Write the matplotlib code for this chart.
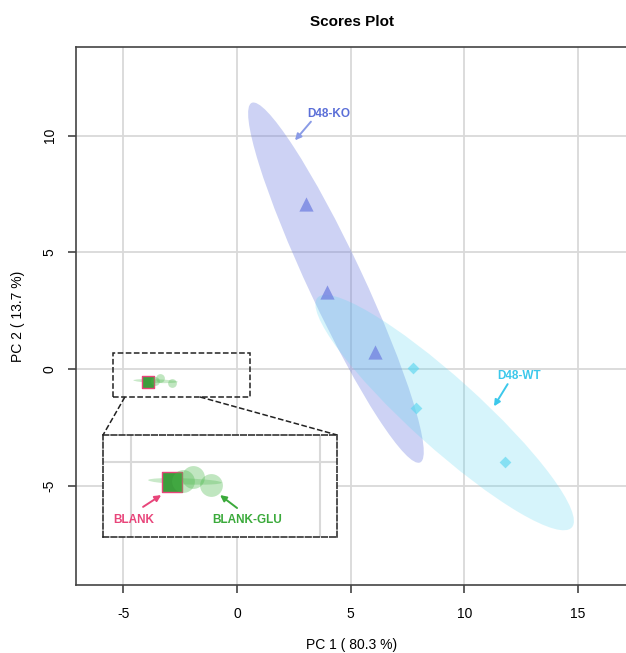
import matplotlib
matplotlib.use("Agg")
import matplotlib.pyplot as plt
from matplotlib.patches import Ellipse, Rectangle

plt.rcParams['font.family'] = ['Liberation Sans', 'DejaVu Sans']
plt.rcParams['axes.unicode_minus'] = False

# scores
ko_x = [3.03, 3.96, 6.07]
ko_y = [7.07, 3.30, 0.73]
wt_x = [7.74, 7.87, 11.79]
wt_y = [0.04, -1.67, -3.99]
blank_x = [-3.92]
blank_y = [-0.54]
glu_x = [-3.62, -3.38, -2.88]
glu_y = [-0.50, -0.40, -0.61]

# ellipses: center x, center y, width, height, angle
ko_ell = (4.35, 3.70, 17.1, 2.4, -64.3)
wt_ell = (9.13, -1.87, 14.9, 3.0, -41.3)
glu_ell = (-3.58, -0.52, 1.95, 0.16, -2.0)

xticks = [-5, 0, 5, 10, 15]
yticks = [-5, 0, 5, 10]

c_ko, c_wt = '#7080E0', '#5CD6F0'
c_blank, c_glu = '#E8457A', '#4CB84C'
grid_c = '#D9D9D9'

fig = plt.figure(figsize=(6.26, 6.53), dpi=100)
W, H = 626, 653
ax = fig.add_axes([76 / W, (H - 585) / H, (640 - 76) / W, (585 - 47) / H])
ax.set_xlim(-7.08, 17.72)
ax.set_ylim(-9.26, 13.8)
ax.set_xticks(xticks)
ax.set_yticks(yticks)
ax.grid(True, color=grid_c, lw=1.3)
ax.set_axisbelow(True)
for s in ['left', 'bottom', 'top']:
    ax.spines[s].set_color('#444444')
    ax.spines[s].set_linewidth(1.2)
ax.spines['right'].set_visible(False)
ax.tick_params(length=6, width=1.2, color='#444444', labelsize=10)
ax.tick_params(axis='x', pad=10)
ax.tick_params(axis='y', pad=8)
plt.setp(ax.get_yticklabels(), rotation=90, va='center')

def draw(a, sq, circ, tri=105, dia=36):
    for (cx, cy, w, h, ang), col, al in [(ko_ell, c_ko, 0.35), (wt_ell, c_wt, 0.25),
                                        (glu_ell, c_glu, 0.3)]:
        a.add_patch(Ellipse((cx, cy), w, h, angle=ang, fc=col, ec='none', alpha=al))
    a.scatter(ko_x, ko_y, marker='^', s=tri, c=c_ko, alpha=0.75, lw=0)
    a.scatter(wt_x, wt_y, marker='D', s=dia, c=c_wt, alpha=0.65, lw=0)
    a.scatter(blank_x, blank_y, marker='s', s=sq, fc='#3C9E3C', ec=c_blank,
              lw=1.0, zorder=3)
    a.scatter(glu_x, glu_y, marker='o', s=circ, c=c_glu, alpha=0.35, lw=0, zorder=4)

draw(ax, sq=75, circ=40)

def label(a, text, xy, start, pos, col, acol):
    a.annotate('', xy=xy, xytext=start,
               arrowprops=dict(arrowstyle='-|>', color=acol, lw=1.4,
                               mutation_scale=9, shrinkA=0, shrinkB=0))
    a.text(pos[0], pos[1], text, color=col, fontsize=8.5, fontweight='bold',
           ha='center', va='center')

label(ax, 'D48-KO', (2.55, 9.8), (3.25, 10.6), (4.05, 10.93), '#5B6FD8', '#8A9BE6')
label(ax, 'D48-WT', (11.3, -1.6), (11.9, -0.65), (12.4, -0.3), '#3CC8EB', '#3CC8EB')

# zoom box and its connectors
ax.add_patch(Rectangle((-5.45, -1.2), 6.02, 1.89, fill=False, ec='#222222', ls='--', lw=1.1))
ax.plot([-4.93, -5.89], [-1.2, -2.83], ls='--', color='#222222', lw=1.1)
ax.plot([-1.63, 4.40], [-1.2, -2.83], ls='--', color='#222222', lw=1.1)

ins = ax.inset_axes([-5.89, -7.20, 10.29, 4.37], transform=ax.transData)
ins.set_xlim(-5.75, 0.45)
ins.set_ylim(-1.98, 0.70)
ins.set_xticks([-5, 0])
ins.set_yticks([0])
ins.tick_params(length=0, labelbottom=False, labelleft=False)
ins.grid(True, color=grid_c, lw=1.5)
ins.set_axisbelow(True)
for s in ins.spines.values():
    s.set_linestyle('--')
    s.set_linewidth(1.1)
    s.set_color('#222222')
draw(ins, sq=190, circ=270, tri=300, dia=140)
label(ins, 'BLANK', (-4.21, -0.88), (-4.69, -1.19), (-4.95, -1.53), c_blank, c_blank)
label(ins, 'BLANK-GLU', (-2.65, -0.88), (-2.20, -1.22), (-1.93, -1.53), '#3BAA3B', '#3BAA3B')

fig.text(352 / W, 1 - 22 / H, 'Scores Plot', ha='center', va='center',
         fontsize=11, fontweight='bold')
fig.text(352 / W, 1 - 645 / H, 'PC 1 ( 80.3 %)', ha='center', va='center', fontsize=10)
fig.text(18 / W, 1 - 316 / H, 'PC 2 ( 13.7 %)', ha='center', va='center',
         fontsize=10, rotation=90)

fig.savefig('out.png', dpi=100)
